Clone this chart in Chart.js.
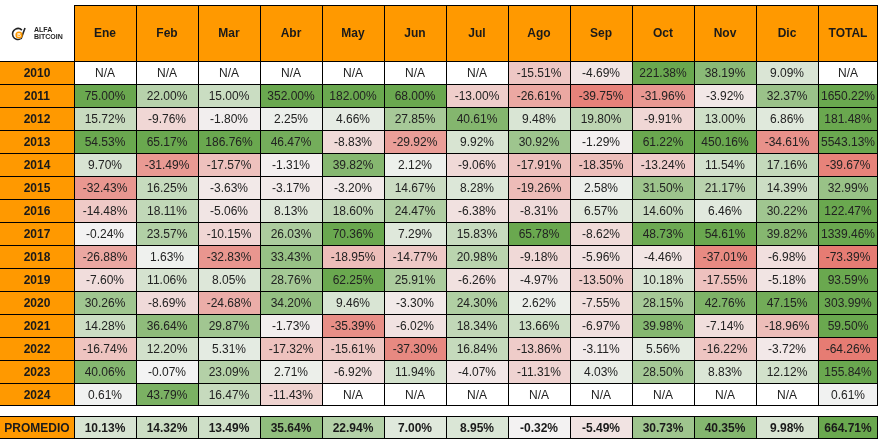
<!DOCTYPE html>
<html>
<head>
<meta charset="utf-8">
<script src="https://cdn.jsdelivr.net/npm/chart.js@4.4.1/dist/chart.umd.min.js"></script>
<style>
    html, body { margin: 0; padding: 0; background: #fff; }
    canvas { display: block; }
</style>
</head>
<body>
<canvas id="heat" width="883" height="445"></canvas>
<script>
// monthly BTC returns (%), null = N/A
const months = ['Ene', 'Feb', 'Mar', 'Abr', 'May', 'Jun', 'Jul', 'Ago', 'Sep', 'Oct', 'Nov', 'Dic'];
const years = [2010, 2011, 2012, 2013, 2014, 2015, 2016, 2017, 2018, 2019, 2020, 2021, 2022, 2023, 2024];

const r2010 = [null, null, null, null, null, null, null, -15.51, -4.69, 221.38, 38.19, 9.09];
const r2011 = [75.00, 22.00, 15.00, 352.00, 182.00, 68.00, -13.00, -26.61, -39.75, -31.96, -3.92, 32.37];
const r2012 = [15.72, -9.76, -1.80, 2.25, 4.66, 27.85, 40.61, 9.48, 19.80, -9.91, 13.00, 6.86];
const r2013 = [54.53, 65.17, 186.76, 46.47, -8.83, -29.92, 9.92, 30.92, -1.29, 61.22, 450.16, -34.61];
const r2014 = [9.70, -31.49, -17.57, -1.31, 39.82, 2.12, -9.06, -17.91, -18.35, -13.24, 11.54, 17.16];
const r2015 = [-32.43, 16.25, -3.63, -3.17, -3.20, 14.67, 8.28, -19.26, 2.58, 31.50, 21.17, 14.39];
const r2016 = [-14.48, 18.11, -5.06, 8.13, 18.60, 24.47, -6.38, -8.31, 6.57, 14.60, 6.46, 30.22];
const r2017 = [-0.24, 23.57, -10.15, 26.03, 70.36, 7.29, 15.83, 65.78, -8.62, 48.73, 54.61, 39.82];
const r2018 = [-26.88, 1.63, -32.83, 33.43, -18.95, -14.77, 20.98, -9.18, -5.96, -4.46, -37.01, -6.98];
const r2019 = [-7.60, 11.06, 8.05, 28.76, 62.25, 25.91, -6.26, -4.97, -13.50, 10.18, -17.55, -5.18];
const r2020 = [30.26, -8.69, -24.68, 34.20, 9.46, -3.30, 24.30, 2.62, -7.55, 28.15, 42.76, 47.15];
const r2021 = [14.28, 36.64, 29.87, -1.73, -35.39, -6.02, 18.34, 13.66, -6.97, 39.98, -7.14, -18.96];
const r2022 = [-16.74, 12.20, 5.31, -17.32, -15.61, -37.30, 16.84, -13.86, -3.11, 5.56, -16.22, -3.72];
const r2023 = [40.06, -0.07, 23.09, 2.71, -6.92, 11.94, -4.07, -11.31, 4.03, 28.50, 8.83, 12.12];
const r2024 = [0.61, 43.79, 16.47, -11.43, null, null, null, null, null, null, null, null];
const monthly = [r2010, r2011, r2012, r2013, r2014, r2015, r2016, r2017, r2018, r2019, r2020, r2021, r2022, r2023, r2024];

const totals = [null, 1650.22, 181.48, 5543.13, -39.67, 32.99, 122.47, 1339.46, -73.39, 93.59, 303.99, 59.50, -64.26, 155.84, 0.61];
const promedio = [10.13, 14.32, 13.49, 35.64, 22.94, 7.00, 8.95, -0.32, -5.49, 30.73, 40.35, 9.98];
const promedioTotal = 664.71;

// layout (px)
const YEAR_W = 74, MONTH_W = 62, TOTAL_W = 60;
const TOP = 5, HEAD_H = 56, ROW_H = 23, GAP = 10;
const W = 883, H = 445;

const ORANGE = '#ff9900';
const FONT = '"Liberation Sans", Arial, sans-serif';

function heat(v) {
    if (v === null) return '#ffffff';
    const mid = [243, 243, 243];
    const end = v >= 0 ? [106, 168, 79] : [230, 124, 115];
    const t = v >= 0 ? Math.min(v / 50, 1) : Math.min(-v / 42, 1);
    const c = mid.map((m, k) => Math.round(m + (end[k] - m) * t));
    return `rgb(${c[0]}, ${c[1]}, ${c[2]})`;
}

const fmt = v => v === null ? 'N/A' : v.toFixed(2) + '%';

// row spans in row units (1 unit = ROW_H)
const nYears = years.length;
const headSpan = [-HEAD_H / ROW_H, 0];
const yearSpan = i => [i, i + 1];
const avgSpan = [nYears + GAP / ROW_H, nYears + 1 + GAP / ROW_H];
const spans = [headSpan, ...years.map((_, i) => yearSpan(i)), avgSpan];
const lastRow = spans.length - 1;

// column centres in column units (1 unit = MONTH_W)
const xMin = -YEAR_W / MONTH_W;

function makeColumn(center, width, texts, bold, colors, kind) {
    return {
        data: spans.map(s => ({ x: center, y: s })),
        texts, bold,
        kind,
        backgroundColor: colors,
        borderColor: '#000',
        borderWidth: (c) => {
            const i = c.dataIndex;
            if (kind === 'year' && i === 0) return 0;
            return {
                top: 1,
                left: kind === 'year' ? 0 : 1,
                right: kind === 'total' ? 1 : 0,
                bottom: (i === nYears || i === lastRow) ? 1 : 0
            };
        },
        borderSkipped: false,
        barThickness: width,
        inflateAmount: 0,
        stack: 'cells'
    };
}

const datasets = [];

datasets.push(makeColumn(
    xMin / 2, YEAR_W,
    ['', ...years.map(String), 'PROMEDIO'],
    spans.map(() => true),
    ['#ffffff', ...years.map(() => ORANGE), ORANGE],
    'year'
));

months.forEach((m, j) => {
    const vals = monthly.map(r => r[j]);
    datasets.push(makeColumn(
        j + 0.5, MONTH_W,
        [m, ...vals.map(fmt), fmt(promedio[j])],
        [true, ...vals.map(() => false), true],
        [ORANGE, ...vals.map(heat), heat(promedio[j])],
        'month'
    ));
});

datasets.push(makeColumn(
    12 + TOTAL_W / MONTH_W / 2, TOTAL_W,
    ['TOTAL', ...totals.map(fmt), fmt(promedioTotal)],
    [true, ...totals.map(() => false), true],
    [ORANGE, ...totals.map(heat), heat(promedioTotal)],
    'total'
));

const cellText = {
    id: 'cellText',
    afterDatasetsDraw(chart) {
        const ctx = chart.ctx;
        ctx.save();
        ctx.textAlign = 'center';
        ctx.textBaseline = 'middle';
        chart.data.datasets.forEach((ds, di) => {
            const meta = chart.getDatasetMeta(di);
            meta.data.forEach((bar, i) => {
                const t = ds.texts[i];
                if (!t) return;
                ctx.font = (ds.bold[i] ? 'bold ' : '') + '12px ' + FONT;
                ctx.fillStyle = ds.bold[i] ? '#1a1a1a' : '#222';
                ctx.fillText(t, bar.x, (bar.y + bar.base) / 2 + 1);
            });
        });

        // logo in the empty corner cell
        const corner = chart.getDatasetMeta(0).data[0];
        const cx = corner.x, cy = (corner.y + corner.base) / 2;
        ctx.strokeStyle = '#222';
        ctx.lineWidth = 1.6;
        ctx.beginPath();
        ctx.arc(cx - 19, cy + 1, 5.5, 0.35 * Math.PI, 1.75 * Math.PI);
        ctx.stroke();
        ctx.beginPath();
        ctx.moveTo(cx - 16, cy + 6);
        ctx.lineTo(cx - 12, cy - 5);
        ctx.stroke();
        ctx.fillStyle = ORANGE;
        ctx.beginPath();
        ctx.arc(cx - 18, cy + 2, 3.6, 0, Math.PI * 2);
        ctx.fill();
        ctx.fillStyle = '#fff';
        ctx.font = 'bold 5px ' + FONT;
        ctx.fillText('B', cx - 18, cy + 2.3);
        ctx.fillStyle = '#222';
        ctx.textAlign = 'left';
        ctx.font = 'bold 7px ' + FONT;
        ctx.fillText('ALFA', cx - 3, cy - 3);
        ctx.fillText('BITCOIN', cx - 3, cy + 4);
        ctx.restore();
    }
};

new Chart(document.getElementById('heat'), {
    type: 'bar',
    data: { datasets },
    options: {
        responsive: false,
        animation: false,
        devicePixelRatio: 1,
        layout: { padding: 0 },
        plugins: {
            legend: { display: false },
            tooltip: { enabled: false }
        },
        scales: {
            x: {
                type: 'linear',
                display: false,
                offset: false,
                bounds: 'data',
                min: xMin,
                max: xMin + W / MONTH_W
            },
            y: {
                type: 'linear',
                display: false,
                reverse: true,
                stacked: false,
                beginAtZero: false,
                bounds: 'data',
                min: -(TOP + HEAD_H) / ROW_H,
                max: -(TOP + HEAD_H) / ROW_H + H / ROW_H
            }
        }
    },
    plugins: [cellText]
});
</script>
</body>
</html>
